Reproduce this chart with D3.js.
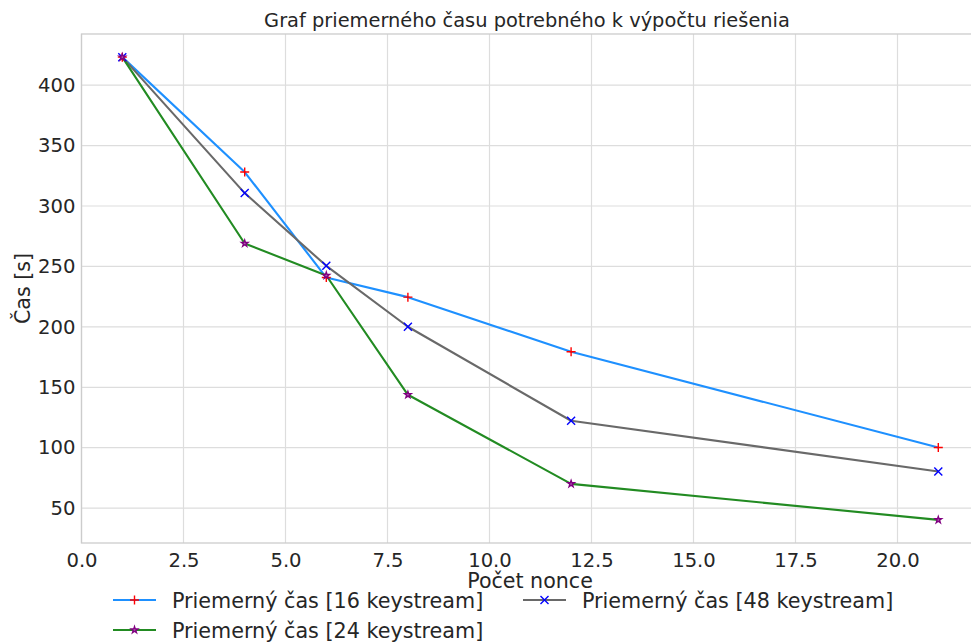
<!DOCTYPE html>
<html><head><meta charset="utf-8">
<script src="https://cdn.jsdelivr.net/npm/d3@7"></script>
<style>body{margin:0;background:#fff}svg{display:block}text{font-family:"DejaVu Sans",sans-serif;fill:#262626}</style>
</head><body>
<svg id="c" width="971" height="644"></svg>
<script>
const nonce = [1, 4, 6, 8, 12, 21];
const time16 = [423.2, 328.1, 240.8, 224.6, 179.4, 100.2];
const time48 = [423.2, 310.7, 250.5, 200.1, 122.3, 80.3];
const time24 = [423.2, 269.0, 242.5, 143.8, 70.1, 40.3];
const xTicks = [0, 2.5, 5, 7.5, 10, 12.5, 15, 17.5, 20];
const yTicks = [50, 100, 150, 200, 250, 300, 350, 400];
const seriesNames = ["Priemerný čas [16 keystream]", "Priemerný čas [48 keystream]", "Priemerný čas [24 keystream]"];

const svg = d3.select("#c");
const L = 81.5, R = 979.1, T = 34, B = 543;
const x = d3.scaleLinear().domain([0, 22]).range([L, R]);
const allY = time16.concat(time48, time24);
const ymin = d3.min(allY), ymax = d3.max(allY), pad = (ymax - ymin) * 0.05;
const y = d3.scaleLinear().domain([ymin - pad, ymax + pad]).range([B, T]);

// grid
const g = svg.append("g");
g.selectAll(".gx").data(xTicks).join("line")
  .attr("x1", d => x(d)).attr("x2", d => x(d)).attr("y1", T).attr("y2", B)
  .attr("stroke", "#dddddd").attr("stroke-width", 1.2);
g.selectAll(".gy").data(yTicks).join("line")
  .attr("x1", L).attr("x2", R).attr("y1", d => y(d)).attr("y2", d => y(d))
  .attr("stroke", "#dddddd").attr("stroke-width", 1.2);
// spines
svg.append("rect").attr("x", L).attr("y", T).attr("width", R - L).attr("height", B - T)
  .attr("fill", "none").attr("stroke", "#cccccc").attr("stroke-width", 1.3);

// axes via d3
const xAxis = d3.axisBottom(x).tickValues(xTicks).tickFormat(d3.format(".1f")).tickSize(0).tickPadding(10);
const xa = svg.append("g").attr("transform", `translate(0,${B})`).call(xAxis);
xa.select(".domain").remove();
xa.selectAll("text").attr("font-size", 19.6).attr("fill", "#262626").attr("font-family", "DejaVu Sans");
const yAxis = d3.axisLeft(y).tickValues(yTicks).tickFormat(d3.format("d")).tickSize(0).tickPadding(6);
const ya = svg.append("g").attr("transform", `translate(${L},0)`).call(yAxis);
ya.select(".domain").remove();
ya.selectAll("text").attr("font-size", 19.6).attr("fill", "#262626").attr("font-family", "DejaVu Sans");

// series
const series = [
  {name: seriesNames[0], vals: time16, color: "#1e90ff", marker: "plus", mcolor: "#ff0000"},
  {name: seriesNames[1], vals: time48, color: "#696969", marker: "x", mcolor: "#0000ff"},
  {name: seriesNames[2], vals: time24, color: "#228b22", marker: "star", mcolor: "#800080"}
];
const line = d3.line().x(d => x(d[0])).y(d => y(d[1]));
function drawMarker(sel, type, color, cx, cy) {
  if (type === "plus") {
    sel.append("path").attr("d", `M${cx-4.5},${cy}H${cx+4.5}M${cx},${cy-4.5}V${cy+4.5}`)
      .attr("stroke", color).attr("stroke-width", 1.4).attr("fill", "none");
  } else if (type === "x") {
    sel.append("path").attr("d", `M${cx-4},${cy-4}L${cx+4},${cy+4}M${cx-4},${cy+4}L${cx+4},${cy-4}`)
      .attr("stroke", color).attr("stroke-width", 1.4).attr("fill", "none");
  } else {
    sel.append("path").attr("d", d3.symbol(d3.symbolStar, 14)())
      .attr("transform", `translate(${cx},${cy})`)
      .attr("fill", "#b060b0").attr("stroke", color).attr("stroke-width", 1.3);
  }
}
series.forEach(s => {
  const pts = nonce.map((n, i) => [n, s.vals[i]]);
  svg.append("path").datum(pts).attr("d", line).attr("fill", "none")
    .attr("stroke", s.color).attr("stroke-width", 2.1).attr("stroke-linejoin", "round");
});
series.forEach(s => {
  const mg = svg.append("g");
  nonce.forEach((n, i) => drawMarker(mg, s.marker, s.mcolor, x(n), y(s.vals[i])));
});

// title & labels
svg.append("text").attr("x", 527).attr("y", 27).attr("text-anchor", "middle")
  .attr("font-size", 19.4).text("Graf priemerného času potrebného k výpočtu riešenia");
svg.append("text").attr("x", 530).attr("y", 588).attr("text-anchor", "middle")
  .attr("font-size", 20.6).text("Počet nonce");
svg.append("text").attr("transform", `translate(30,${(T + B) / 2}) rotate(-90)`).attr("text-anchor", "middle")
  .attr("font-size", 20.6).text("Čas [s]");

// legend
const legPos = [{x: 113, y: 600}, {x: 523, y: 600}, {x: 113, y: 630}];
series.forEach((s, i) => {
  const p = legPos[i];
  const lg = svg.append("g");
  lg.append("line").attr("x1", p.x).attr("x2", p.x + 43).attr("y1", p.y).attr("y2", p.y)
    .attr("stroke", s.color).attr("stroke-width", 2.1);
  drawMarker(lg, s.marker, s.mcolor, p.x + 21.5, p.y);
  lg.append("text").attr("x", p.x + 59).attr("y", p.y + 7.5).attr("font-size", 20.7).text(s.name);
});
</script>
</body></html>
